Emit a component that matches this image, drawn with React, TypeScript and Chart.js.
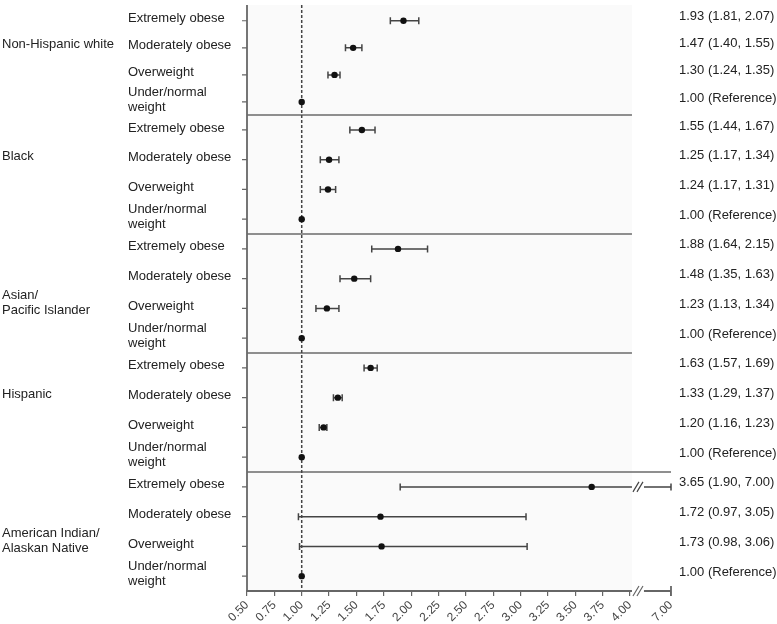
import React, { useEffect, useRef } from "react";
import { Chart, registerables } from "chart.js";

Chart.register(...registerables);

const groups = [
  "Non-Hispanic white",
  "Black",
  "Asian/\nPacific Islander",
  "Hispanic",
  "American Indian/\nAlaskan Native",
];
const categories = ["Extremely obese", "Moderately obese", "Overweight", "Under/normal\nweight"];

const estimates = [
  [1.93, 1.47, 1.3, 1.0],
  [1.55, 1.25, 1.24, 1.0],
  [1.88, 1.48, 1.23, 1.0],
  [1.63, 1.33, 1.2, 1.0],
  [3.65, 1.72, 1.73, 1.0],
];
const lowerCI = [
  [1.81, 1.4, 1.24, null],
  [1.44, 1.17, 1.17, null],
  [1.64, 1.35, 1.13, null],
  [1.57, 1.29, 1.16, null],
  [1.9, 0.97, 0.98, null],
];
const upperCI = [
  [2.07, 1.55, 1.35, null],
  [1.67, 1.34, 1.31, null],
  [2.15, 1.63, 1.34, null],
  [1.69, 1.37, 1.23, null],
  [7.0, 3.05, 3.06, null],
];

const xTickValues = [0.5, 0.75, 1.0, 1.25, 1.5, 1.75, 2.0, 2.25, 2.5, 2.75, 3.0, 3.25, 3.5, 3.75, 4.0, 7.0];
const referenceValue = 1.0;
const BREAK_AT = 4.0;
const BREAK_TOP = 7.0;
const BREAK_SPAN = 0.375;

function toAxis(v: number): number {
  return v <= BREAK_AT ? v : BREAK_AT + ((v - BREAK_AT) / (BREAK_TOP - BREAK_AT)) * BREAK_SPAN;
}

// layout: the first block is drawn slightly tighter than the others
const FIRST_BLOCK_START = 0.33;
const FIRST_BLOCK_STEP = 0.91;
function rowPosition(g: number, r: number): number {
  return g === 0 ? FIRST_BLOCK_START + FIRST_BLOCK_STEP * r : g * categories.length + r;
}

const FONT = "'Liberation Sans', Arial, Helvetica, sans-serif";
const AXIS_COLOR = "#666";
const TEXT_COLOR = "#222";

function drawMultiline(ctx: CanvasRenderingContext2D, text: string, x: number, cy: number, lh: number) {
  const lines = text.split("\n");
  const start = cy - ((lines.length - 1) * lh) / 2;
  lines.forEach((ln, i) => ctx.fillText(ln, x, start + i * lh));
}

function drawSlashes(ctx: CanvasRenderingContext2D, bx: number, by: number) {
  ctx.beginPath();
  for (let k = 0; k < 2; k++) {
    const ox = bx + k * 4;
    ctx.moveTo(ox - 3, by + 5);
    ctx.lineTo(ox + 3, by - 5);
  }
  ctx.stroke();
}

const overlayPlugin = {
  id: "forestOverlay",
  beforeDatasetsDraw(chart: any) {
    const { ctx, chartArea: a, scales } = chart;
    const x = scales.x;
    const y = scales.y;
    const xBreak = x.getPixelForValue(toAxis(BREAK_AT));
    const xEnd = x.getPixelForValue(toAxis(BREAK_TOP));
    ctx.save();
    ctx.fillStyle = "#fafafa";
    ctx.fillRect(a.left, a.top, xBreak + 2 - a.left, a.bottom - a.top);

    ctx.strokeStyle = AXIS_COLOR;
    ctx.lineWidth = 1.8;
    ctx.beginPath();
    ctx.moveTo(a.left, a.top);
    ctx.lineTo(a.left, a.bottom);
    ctx.stroke();

    ctx.lineWidth = 1.2;
    ctx.beginPath();
    for (let g = 0; g < groups.length; g++) {
      for (let r = 0; r < categories.length; r++) {
        const py = y.getPixelForValue(rowPosition(g, r));
        ctx.moveTo(a.left - 5, py);
        ctx.lineTo(a.left, py);
      }
    }
    ctx.stroke();

    ctx.lineWidth = 1.6;
    ctx.strokeStyle = "#6a6a6a";
    for (let g = 1; g < groups.length; g++) {
      const py = y.getPixelForValue(rowPosition(g, 0) - 0.5);
      ctx.beginPath();
      ctx.moveTo(a.left, py);
      ctx.lineTo(g === groups.length - 1 ? xEnd : xBreak + 2, py);
      ctx.stroke();
    }

    const xr = x.getPixelForValue(referenceValue);
    ctx.setLineDash([3, 2]);
    ctx.strokeStyle = "#444";
    ctx.lineWidth = 1.5;
    ctx.beginPath();
    ctx.moveTo(xr, a.top);
    ctx.lineTo(xr, a.bottom);
    ctx.stroke();
    ctx.setLineDash([]);

    ctx.strokeStyle = "#444";
    ctx.lineWidth = 1.5;
    for (let g = 0; g < groups.length; g++) {
      for (let r = 0; r < categories.length; r++) {
        const lo = lowerCI[g][r];
        const hi = upperCI[g][r];
        if (lo == null || hi == null) continue;
        const py = y.getPixelForValue(rowPosition(g, r));
        const x1 = x.getPixelForValue(toAxis(lo));
        const x2 = x.getPixelForValue(toAxis(hi));
        ctx.beginPath();
        if (hi > BREAK_AT) {
          ctx.moveTo(x1, py);
          ctx.lineTo(xBreak + 2, py);
          ctx.moveTo(xBreak + 14, py);
          ctx.lineTo(x2, py);
        } else {
          ctx.moveTo(x1, py);
          ctx.lineTo(x2, py);
        }
        ctx.moveTo(x1, py - 3.5);
        ctx.lineTo(x1, py + 3.5);
        ctx.moveTo(x2, py - 3.5);
        ctx.lineTo(x2, py + 3.5);
        ctx.stroke();
        if (hi > BREAK_AT) {
          ctx.lineWidth = 1.2;
          drawSlashes(ctx, xBreak + 6, py);
          ctx.lineWidth = 1.5;
        }
      }
    }
    ctx.restore();
  },
  afterDraw(chart: any) {
    const { ctx, chartArea: a, scales } = chart;
    const x = scales.x;
    const y = scales.y;
    const xBreak = x.getPixelForValue(toAxis(BREAK_AT));
    const xEnd = x.getPixelForValue(toAxis(BREAK_TOP));
    ctx.save();
    ctx.strokeStyle = AXIS_COLOR;
    ctx.lineWidth = 1.8;
    ctx.beginPath();
    ctx.moveTo(a.left - 1, a.bottom);
    ctx.lineTo(xBreak + 2, a.bottom);
    ctx.moveTo(xBreak + 14, a.bottom);
    ctx.lineTo(xEnd, a.bottom);
    ctx.moveTo(xEnd, a.bottom - 5);
    ctx.lineTo(xEnd, a.bottom + 5);
    ctx.stroke();
    ctx.lineWidth = 1.2;
    drawSlashes(ctx, xBreak + 6, a.bottom);

    ctx.fillStyle = TEXT_COLOR;
    ctx.font = `13px ${FONT}`;
    ctx.textBaseline = "middle";
    ctx.textAlign = "left";
    for (let g = 0; g < groups.length; g++) {
      const lines = groups[g].split("\n").length;
      const p1 = y.getPixelForValue(rowPosition(g, 1));
      const p2 = y.getPixelForValue(rowPosition(g, 2));
      const gy = lines > 1 ? p1 + 0.8 * (p2 - p1) : p1 - 3;
      drawMultiline(ctx, groups[g], 2, gy, 15);
      for (let r = 0; r < categories.length; r++) {
        const py = y.getPixelForValue(rowPosition(g, r));
        drawMultiline(ctx, categories[r], 128, py - 2, 15);
        const est = estimates[g][r];
        const lo = lowerCI[g][r];
        const hi = upperCI[g][r];
        const txt =
          lo == null || hi == null
            ? `${est.toFixed(2)} (Reference)`
            : `${est.toFixed(2)} (${lo.toFixed(2)}, ${hi.toFixed(2)})`;
        ctx.fillText(txt, 679, py - 4);
      }
    }
    ctx.restore();
  },
};

export default function App() {
  const ref = useRef<HTMLCanvasElement | null>(null);

  useEffect(() => {
    if (!ref.current) return;
    const points: { x: number; y: number }[] = [];
    for (let g = 0; g < groups.length; g++) {
      for (let r = 0; r < categories.length; r++) {
        points.push({ x: toAxis(estimates[g][r]), y: rowPosition(g, r) });
      }
    }
    const total = groups.length * categories.length;
    const chart = new Chart(ref.current, {
      type: "scatter",
      data: {
        datasets: [
          {
            data: points,
            pointRadius: 3.2,
            pointHoverRadius: 3.2,
            pointBackgroundColor: "#111",
            pointBorderWidth: 0,
            showLine: false,
          },
        ],
      },
      options: {
        animation: false,
        responsive: false,
        devicePixelRatio: 1,
        layout: { padding: { left: 247, right: 106, top: 5, bottom: 0 } },
        plugins: { legend: { display: false }, tooltip: { enabled: false } },
        scales: {
          x: {
            type: "linear",
            min: toAxis(xTickValues[0]),
            max: toAxis(xTickValues[xTickValues.length - 1]),
            afterBuildTicks: (scale: any) => {
              scale.ticks = xTickValues.map((v) => ({ value: toAxis(v) }));
            },
            afterFit: (scale: any) => {
              scale.height = 33;
            },
            ticks: {
              autoSkip: false,
              minRotation: 45,
              maxRotation: 45,
              padding: 2,
              color: "#444",
              font: { size: 12, family: FONT },
              callback: (_v: any, i: number) => xTickValues[i].toFixed(2),
            },
            grid: {
              drawOnChartArea: false,
              drawTicks: true,
              tickLength: 5,
              color: AXIS_COLOR,
              lineWidth: 1.2,
            },
            border: { display: false },
          },
          y: {
            type: "linear",
            display: false,
            reverse: true,
            min: -0.2,
            max: total - 0.5,
          },
        },
      },
      plugins: [overlayPlugin],
    } as any);
    return () => chart.destroy();
  }, []);

  return (
    <div style={{ position: "absolute", left: 0, top: 0, width: 777, height: 624, background: "#fff" }}>
      <canvas ref={ref} width={777} height={624} style={{ width: 777, height: 624, display: "block" }} />
    </div>
  );
}
